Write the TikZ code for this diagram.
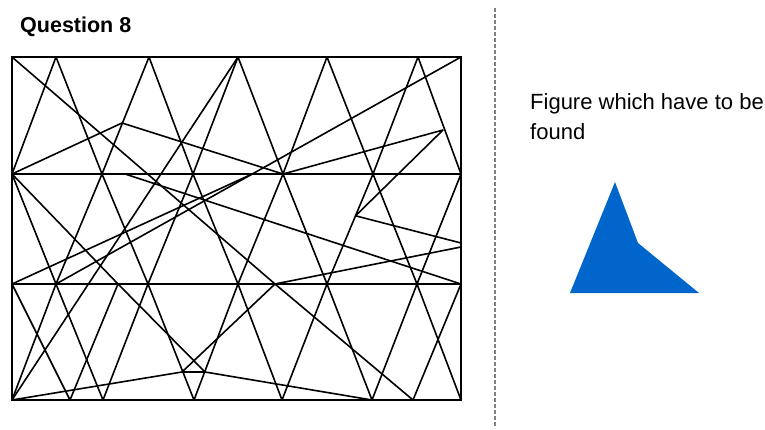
\documentclass[tikz,border=0pt]{standalone}
\usepackage{fontspec}
\setmainfont{Liberation Sans}
\usetikzlibrary{calc}
\definecolor{figblue}{HTML}{0066CC}
\definecolor{dashgray}{HTML}{808080}

\begin{document}
\begin{tikzpicture}[x=1pt,y=-1pt,
  frame/.style={line width=2.1pt,line join=miter},
  seg/.style={line width=1.6pt,line join=round},
  divider/.style={line width=1.8pt,dashgray,dash pattern=on 4pt off 2pt},
  txt/.style={anchor=base west,inner sep=0pt,font=\fontsize{22}{26}\selectfont}]
\useasboundingbox (0,0) rectangle (765,430);

\node[txt,font=\bfseries\fontsize{21.5}{26}\selectfont] (title) at (20,33) {Question 8};

\coordinate (T0) at (12,57);  \coordinate (T1) at (56,57);  \coordinate (T2) at (149,57);
\coordinate (T3) at (238,57); \coordinate (T4) at (327,57); \coordinate (T5) at (418,57);
\coordinate (T6) at (461,57);
\coordinate (M0) at (12,174);  \coordinate (M1) at (102,174); \coordinate (M2) at (193,174);
\coordinate (M3) at (283,174); \coordinate (M4) at (373,174); \coordinate (M5) at (461,174);
\coordinate (N0) at (12,284);  \coordinate (N1) at (56,284);  \coordinate (N2) at (118,284);
\coordinate (N3) at (148,284); \coordinate (N4) at (238,284); \coordinate (N5) at (275,284);
\coordinate (N6) at (327,284); \coordinate (N7) at (417,284); \coordinate (N8) at (461,284);
\coordinate (B0) at (12,400);  \coordinate (B1) at (70,400);  \coordinate (B2) at (103,400);
\coordinate (B3) at (194,400); \coordinate (B4) at (282,400); \coordinate (B5) at (372,400);
\coordinate (B6) at (413,400); \coordinate (B7) at (461,400);

\coordinate (P1) at (122,123);
\coordinate (P2) at (443,130);
\coordinate (P3) at ($(M4)!0.38!(N6)$);
\coordinate (Q) at ($(T6)!0.515!(N1)$);
\coordinate (I0) at (125,174);
\coordinate (R1) at (461,243);
\coordinate (R2) at (461,247);
\coordinate (C1) at (182,372);
\coordinate (C2) at (205,372);

\draw[frame] (T0) rectangle (B7);
\draw[frame] (M0) -- (M5);
\draw[frame] (N0) -- (N8);

\draw[seg] (M0) -- (T1) -- (M1) -- (T2) -- (M2) -- (T3) -- (M3) -- (T4) -- (M4) -- (T5) -- (M5);
\draw[seg] (M0) -- (N1) -- (M1) -- (N3) -- (M2) -- (N4) -- (M3) -- (N6) -- (M4) -- (N7) -- (M5);
\draw[seg] (B0) -- (N1) -- (B2) -- (N3) -- (B3) -- (N4) -- (B4) -- (N6) -- (B5) -- (N7) -- (B7);
\draw[seg] (N0) -- (B1) -- (N2);
\draw[seg] (N5) -- (B6) -- (N8);
\draw[seg] (M0) -- (N2);
\draw[seg] (T0) -- (N5);
\draw[seg] (T3) -- (B0);
\draw[seg] (T6) -- (N1);
\draw[seg] (N0) -- (Q);
\draw[seg] (M0) -- (P1) -- (M3) -- (P2) -- (P3) -- (R1);
\draw[seg] (N5) -- (R2);
\draw[seg] (I0) -- (N8);
\draw[seg] (B0) -- (C1) -- (C2) -- (B5);
\draw[seg] (N2) -- (C2);
\draw[seg] (N5) -- (C1);

\coordinate (divtop) at (495,8);
\coordinate (divbot) at (495,428);
\draw[divider] (divtop) -- (divbot);

\node[txt] (hint) at (530,110) {Figure which have to be};
\node[txt] (hint2) at (530,140) {found};

\coordinate (apex) at (615,182);
\coordinate (notch) at (638,243);
\coordinate (right) at (699,293);
\coordinate (left) at (570,293);
\fill[figblue] (apex) -- (notch) -- (right) -- (left) -- cycle;
\end{tikzpicture}
\end{document}
